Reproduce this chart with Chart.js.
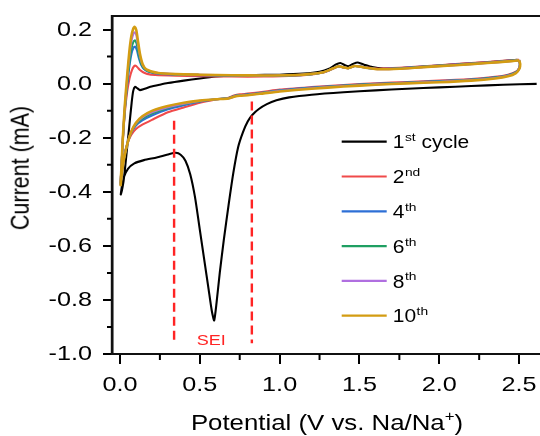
<!DOCTYPE html>
<html>
<head>
<meta charset="utf-8">
<script src="https://cdn.jsdelivr.net/npm/chart.js@4.4.1/dist/chart.umd.min.js"></script>
<style>
  html, body { margin: 0; padding: 0; background: #fff; overflow: hidden; }
  /* plot runs past the right edge of the window, like the reference */
  #wrap { position: relative; width: 559px; height: 436px; }
  #ytitle { position: absolute; left: 21px; top: 168px; width: 0; height: 0; }
  #ytitle span {
    position: absolute; left: 0; top: 0; white-space: nowrap;
    font: 21.5px "Liberation Sans", Arial, sans-serif; line-height: 1; color: #000;
    transform-origin: 0 0; transform: scaleX(1.2) rotate(-90deg) translate(-50%, -50%);
  }
</style>
</head>
<body>
<div id="wrap">
  <canvas id="cv"></canvas>
  <div id="ytitle"><span>Current (mA)</span></div>
</div>
<script>
// axis ticks
const xTicks = [0, 0.5, 1.0, 1.5, 2.0, 2.5];
const xMinor = [0.25, 0.75, 1.25, 1.75, 2.25];
const yTicks = [-1.0, -0.8, -0.6, -0.4, -0.2, 0.0, 0.2];
const yMinor = [-0.9, -0.7, -0.5, -0.3, -0.1, 0.1];

// legend text: number, superscript, rest
const cycleLabels = [['1', 'st', ' cycle'], ['2', 'nd', ''], ['4', 'th', ''], ['6', 'th', ''], ['8', 'th', ''], ['10', 'th', '']];
const cycleColors = ['#000000', '#f04a4a', '#2d6fd6', '#1f9f62', '#b06fe0', '#d39c12'];

// potential (V), current (mA)
const cycle1 = [
  [2.61,-0.001],[2.4,-0.004],[2.2,-0.009],[2.0,-0.014],[1.8,-0.019],[1.6,-0.025],[1.4,-0.032],[1.2,-0.041],
  [1.06,-0.051],[0.98,-0.062],[0.92,-0.076],[0.87,-0.094],[0.83,-0.115],[0.80,-0.14],[0.77,-0.18],[0.74,-0.235],
  [0.71,-0.33],[0.68,-0.45],[0.65,-0.58],[0.625,-0.70],[0.605,-0.81],[0.59,-0.876],[0.575,-0.84],[0.555,-0.76],
  [0.53,-0.66],[0.50,-0.54],[0.47,-0.42],[0.44,-0.335],[0.41,-0.285],[0.38,-0.263],[0.35,-0.256],[0.30,-0.262],
  [0.23,-0.273],[0.15,-0.283],[0.09,-0.295],[0.05,-0.315],[0.025,-0.345],[0.012,-0.38],[0.005,-0.41],
  [0.02,-0.37],[0.031,-0.317],[0.052,-0.194],[0.073,-0.071],[0.083,-0.027],[0.094,-0.012],[0.11,-0.018],
  [0.125,-0.024],[0.15,-0.02],[0.19,-0.012],[0.25,-0.004],[0.30,0.002],[0.40,0.011],[0.50,0.019],[0.60,0.026],
  [0.70,0.030],[0.85,0.032],[1.0,0.033],[1.15,0.037],[1.25,0.044],[1.31,0.055],[1.35,0.07],[1.38,0.076],
  [1.41,0.068],[1.43,0.064],[1.46,0.073],[1.49,0.078],[1.53,0.07],[1.58,0.061],[1.65,0.056],[1.75,0.057],
  [1.9,0.063],[2.1,0.071],[2.3,0.079],[2.49,0.088]
];
const cycle2 = [
  [2.5,0.088],[2.505,0.074],[2.5,0.058],[2.48,0.044],[2.43,0.033],[2.35,0.025],[2.2,0.017],[2.0,0.011],
  [1.8,0.006],[1.6,0.001],[1.4,-0.005],[1.2,-0.013],[1.0,-0.022],[0.9,-0.030],[0.8,-0.037],[0.75,-0.040],
  [0.72,-0.043],[0.68,-0.052],[0.6,-0.059],[0.5,-0.071],[0.4,-0.088],[0.3,-0.106],[0.2,-0.134],[0.14,-0.152],
  [0.1,-0.168],[0.07,-0.19],[0.045,-0.225],[0.025,-0.27],[0.012,-0.32],[0.004,-0.365],
  [0.01,-0.30],[0.018,-0.21],[0.03,-0.11],[0.045,-0.03],[0.06,0.02],[0.075,0.05],[0.088,0.064],[0.098,0.066],
  [0.11,0.060],[0.125,0.050],[0.145,0.042],[0.17,0.036],[0.22,0.032],[0.35,0.029],[0.5,0.027],[0.7,0.026],
  [0.9,0.026],[1.1,0.029],[1.2,0.034],[1.28,0.042],[1.33,0.054],[1.37,0.063],[1.4,0.060],[1.43,0.057],
  [1.47,0.065],[1.5,0.064],[1.55,0.059],[1.62,0.055],[1.75,0.058],[1.9,0.064],[2.1,0.072],[2.3,0.080],
  [2.45,0.086],[2.5,0.088]
];
const cycle4 = [
  [2.5,0.087],[2.505,0.073],[2.5,0.056],[2.48,0.042],[2.43,0.031],[2.35,0.023],[2.2,0.015],[2.0,0.009],
  [1.8,0.004],[1.6,-0.001],[1.4,-0.007],[1.2,-0.015],[1.0,-0.025],[0.9,-0.033],[0.8,-0.040],[0.75,-0.042],
  [0.72,-0.045],[0.68,-0.053],[0.6,-0.058],[0.5,-0.067],[0.4,-0.080],[0.3,-0.095],[0.2,-0.118],[0.14,-0.136],
  [0.1,-0.155],[0.07,-0.182],[0.045,-0.225],[0.025,-0.275],[0.012,-0.325],[0.004,-0.37],
  [0.01,-0.30],[0.018,-0.205],[0.03,-0.10],[0.045,-0.005],[0.058,0.06],[0.072,0.11],[0.085,0.133],[0.095,0.137],
  [0.105,0.125],[0.118,0.095],[0.132,0.070],[0.15,0.054],[0.18,0.044],[0.24,0.037],[0.35,0.033],[0.5,0.031],
  [0.7,0.029],[0.9,0.028],[1.1,0.031],[1.2,0.035],[1.28,0.043],[1.33,0.055],[1.37,0.064],[1.4,0.060],
  [1.43,0.057],[1.47,0.065],[1.5,0.064],[1.55,0.058],[1.62,0.054],[1.75,0.057],[1.9,0.063],[2.1,0.070],
  [2.3,0.078],[2.45,0.085],[2.5,0.087]
];
const cycle6 = [
  [2.5,0.086],[2.505,0.072],[2.5,0.055],[2.48,0.041],[2.43,0.030],[2.35,0.022],[2.2,0.014],[2.0,0.008],
  [1.8,0.003],[1.6,-0.002],[1.4,-0.008],[1.2,-0.016],[1.0,-0.026],[0.9,-0.034],[0.8,-0.041],[0.75,-0.043],
  [0.72,-0.046],[0.68,-0.054],[0.6,-0.058],[0.5,-0.065],[0.4,-0.076],[0.3,-0.090],[0.2,-0.111],[0.14,-0.130],
  [0.1,-0.151],[0.07,-0.18],[0.045,-0.225],[0.025,-0.277],[0.012,-0.327],[0.004,-0.372],
  [0.01,-0.30],[0.018,-0.203],[0.03,-0.095],[0.045,0.005],[0.058,0.075],[0.072,0.13],[0.085,0.156],[0.094,0.160],
  [0.104,0.148],[0.116,0.112],[0.13,0.078],[0.148,0.057],[0.175,0.046],[0.24,0.038],[0.35,0.034],[0.5,0.032],
  [0.7,0.030],[0.9,0.029],[1.1,0.031],[1.2,0.035],[1.28,0.043],[1.33,0.055],[1.37,0.064],[1.4,0.060],
  [1.43,0.057],[1.47,0.065],[1.5,0.063],[1.55,0.058],[1.62,0.054],[1.75,0.056],[1.9,0.062],[2.1,0.069],
  [2.3,0.077],[2.45,0.084],[2.5,0.086]
];
const cycle8 = [
  [2.5,0.086],[2.505,0.071],[2.5,0.054],[2.48,0.040],[2.43,0.029],[2.35,0.021],[2.2,0.013],[2.0,0.007],
  [1.8,0.002],[1.6,-0.003],[1.4,-0.009],[1.2,-0.017],[1.0,-0.027],[0.9,-0.035],[0.8,-0.042],[0.75,-0.044],
  [0.72,-0.047],[0.68,-0.055],[0.6,-0.058],[0.5,-0.064],[0.4,-0.074],[0.3,-0.087],[0.2,-0.106],[0.14,-0.125],
  [0.1,-0.148],[0.07,-0.179],[0.045,-0.225],[0.025,-0.278],[0.012,-0.33],[0.004,-0.374],
  [0.01,-0.30],[0.018,-0.20],[0.03,-0.088],[0.045,0.02],[0.058,0.10],[0.072,0.158],[0.085,0.186],[0.093,0.190],
  [0.103,0.178],[0.114,0.138],[0.128,0.095],[0.145,0.065],[0.17,0.050],[0.24,0.039],[0.35,0.035],[0.5,0.033],
  [0.7,0.031],[0.9,0.030],[1.1,0.032],[1.2,0.036],[1.28,0.043],[1.33,0.055],[1.37,0.064],[1.4,0.060],
  [1.43,0.057],[1.47,0.065],[1.5,0.063],[1.55,0.058],[1.62,0.053],[1.75,0.055],[1.9,0.061],[2.1,0.068],
  [2.3,0.076],[2.45,0.083],[2.5,0.086]
];
const cycle10 = [
  [2.5,0.086],[2.507,0.072],[2.502,0.055],[2.48,0.039],[2.43,0.027],[2.35,0.019],[2.2,0.011],[2.0,0.005],
  [1.8,0.001],[1.6,-0.004],[1.4,-0.011],[1.2,-0.019],[1.0,-0.029],[0.9,-0.036],[0.8,-0.043],[0.75,-0.045],
  [0.72,-0.048],[0.68,-0.055],[0.6,-0.058],[0.5,-0.063],[0.4,-0.071],[0.3,-0.083],[0.2,-0.101],[0.14,-0.121],
  [0.1,-0.145],[0.07,-0.178],[0.045,-0.225],[0.025,-0.28],[0.012,-0.33],[0.004,-0.376],
  [0.01,-0.30],[0.018,-0.198],[0.03,-0.082],[0.045,0.03],[0.058,0.115],[0.071,0.175],[0.083,0.203],[0.092,0.210],
  [0.102,0.198],[0.112,0.160],[0.125,0.110],[0.142,0.072],[0.165,0.053],[0.24,0.039],[0.35,0.035],[0.5,0.033],
  [0.7,0.031],[0.9,0.030],[1.1,0.032],[1.2,0.036],[1.28,0.043],[1.33,0.055],[1.37,0.064],[1.4,0.060],
  [1.43,0.057],[1.47,0.065],[1.5,0.063],[1.55,0.058],[1.62,0.053],[1.75,0.055],[1.9,0.061],[2.1,0.068],
  [2.3,0.076],[2.45,0.083],[2.5,0.086]
];
const cycles = [cycle1, cycle2, cycle4, cycle6, cycle8, cycle10];

// dashed markers around the SEI peak
const seiLeft = [[0.339, -0.137], [0.339, -0.96]];
const seiRight = [[0.826, -0.066], [0.826, -0.96]];
const seiText = 'SEI';
const seiTextPos = [0.571, -0.967];

const FONT = '"Liberation Sans", Arial, sans-serif';
const SX = 1.2; // text in the reference is drawn wider than tall

const datasets = cycles.map((c, i) => ({
  data: c,
  showLine: true,
  borderColor: cycleColors[i],
  borderWidth: i === 5 ? 2.6 : 2.1,
  pointRadius: 0,
  tension: 0.2,
  order: 6 - i
}));
[seiLeft, seiRight].forEach(d => datasets.push({
  data: d, showLine: true, borderColor: '#ff2424', borderWidth: 2.4,
  borderDash: [9, 5], pointRadius: 0, order: -1
}));

// draw text stretched sideways
function wideText(ctx, txt, x, y, font, align, base) {
  ctx.save();
  ctx.font = font;
  ctx.textAlign = align || 'left';
  ctx.textBaseline = base || 'alphabetic';
  ctx.translate(x, y);
  ctx.scale(SX, 1);
  ctx.fillText(txt, 0, 0);
  ctx.restore();
}
function wideWidth(ctx, txt, font) {
  ctx.save(); ctx.font = font;
  const w = ctx.measureText(txt).width * SX;
  ctx.restore();
  return w;
}

const extras = {
  id: 'extras',
  afterDraw(chart) {
    const ctx = chart.ctx;
    const area = chart.chartArea;
    const xs = chart.scales.x, ys = chart.scales.y;
    ctx.save();

    // frame: left, bottom and top edges of the plot
    ctx.strokeStyle = '#111';
    ctx.lineWidth = 2.4;
    ctx.beginPath();
    ctx.moveTo(area.left, area.top - 1); ctx.lineTo(area.left, area.bottom + 1);
    ctx.stroke();
    ctx.lineWidth = 2;
    ctx.beginPath();
    ctx.moveTo(area.left - 1, area.bottom); ctx.lineTo(area.right, area.bottom);
    ctx.moveTo(area.left - 1, area.top); ctx.lineTo(area.right, area.top);
    ctx.stroke();

    // minor ticks
    ctx.strokeStyle = '#000';
    ctx.beginPath();
    xMinor.forEach(v => { const p = xs.getPixelForValue(v); ctx.moveTo(p, area.bottom); ctx.lineTo(p, area.bottom + 6); });
    yMinor.forEach(v => { const p = ys.getPixelForValue(v); ctx.moveTo(area.left, p); ctx.lineTo(area.left - 5, p); });
    ctx.stroke();

    // tick labels from the scales' own ticks
    ctx.fillStyle = '#000';
    const tf = '21px ' + FONT;
    xs.ticks.forEach((t, i) => wideText(ctx, t.value.toFixed(1), xs.getPixelForTick(i), 385, tf, 'center', 'middle'));
    ys.ticks.forEach((t, i) => wideText(ctx, t.value.toFixed(1), area.left - 20, ys.getPixelForTick(i) + 0.5, tf, 'right', 'middle'));

    // SEI label
    ctx.fillStyle = '#ff2424';
    wideText(ctx, seiText, xs.getPixelForValue(seiTextPos[0]), ys.getPixelForValue(seiTextPos[1]), '15px ' + FONT, 'center');

    // legend
    const lf = '17.5px ' + FONT, sf = '11.5px ' + FONT;
    cycleLabels.forEach((lab, i) => {
      const y = 141.7 + i * 34.8;
      ctx.strokeStyle = cycleColors[i];
      ctx.lineWidth = 2.2;
      ctx.beginPath(); ctx.moveTo(341.7, y); ctx.lineTo(386.7, y); ctx.stroke();
      ctx.fillStyle = '#000';
      let x = 392.7;
      wideText(ctx, lab[0], x, y + 6.6, lf);
      x += wideWidth(ctx, lab[0], lf) + 0.5;
      wideText(ctx, lab[1], x, y - 0.5, sf);
      x += wideWidth(ctx, lab[1], sf);
      wideText(ctx, lab[2], x, y + 6.6, lf);
    });

    // x title with superscript
    ctx.fillStyle = '#000';
    const af = '21.5px ' + FONT, supf = '14px ' + FONT;
    const p1 = 'Potential (V vs. Na/Na', p2 = '+', p3 = ')';
    const w1 = wideWidth(ctx, p1, af), w2 = wideWidth(ctx, p2, supf), w3 = wideWidth(ctx, p3, af);
    const tx = 327 - (w1 + w2 + w3) / 2;
    wideText(ctx, p1, tx, 430, af);
    wideText(ctx, p2, tx + w1, 421, supf);
    wideText(ctx, p3, tx + w1 + w2, 430, af);
    ctx.restore();
  }
};

new Chart(document.getElementById('cv'), {
  type: 'scatter',
  data: { datasets },
  options: {
    responsive: true,
    maintainAspectRatio: false,
    animation: false,
    layout: { padding: { top: 16, right: 0, left: 0, bottom: 0 } },
    plugins: { legend: { display: false }, tooltip: { enabled: false } },
    scales: {
      x: {
        type: 'linear', min: -0.05, max: 2.75,
        afterBuildTicks: s => { s.ticks = xTicks.map(v => ({ value: v })); },
        afterFit: s => { s.height = 82; s.paddingLeft = 0; s.paddingRight = 0; },
        grid: { drawOnChartArea: false, color: '#000', lineWidth: 2, tickLength: 10 },
        border: { display: true, color: '#000', width: 2 },
        ticks: { display: false, autoSkip: false }
      },
      y: {
        type: 'linear', min: -1.0, max: 0.25,
        afterBuildTicks: s => { s.ticks = yTicks.map(v => ({ value: v })); },
        afterFit: s => { s.width = 112; s.paddingTop = 0; s.paddingBottom = 0; },
        grid: { drawOnChartArea: false, color: '#000', lineWidth: 2, tickLength: 9 },
        border: { display: true, color: '#000', width: 2.4 },
        ticks: { display: false, autoSkip: false }
      }
    }
  },
  plugins: [extras]
});
</script>
</body>
</html>
